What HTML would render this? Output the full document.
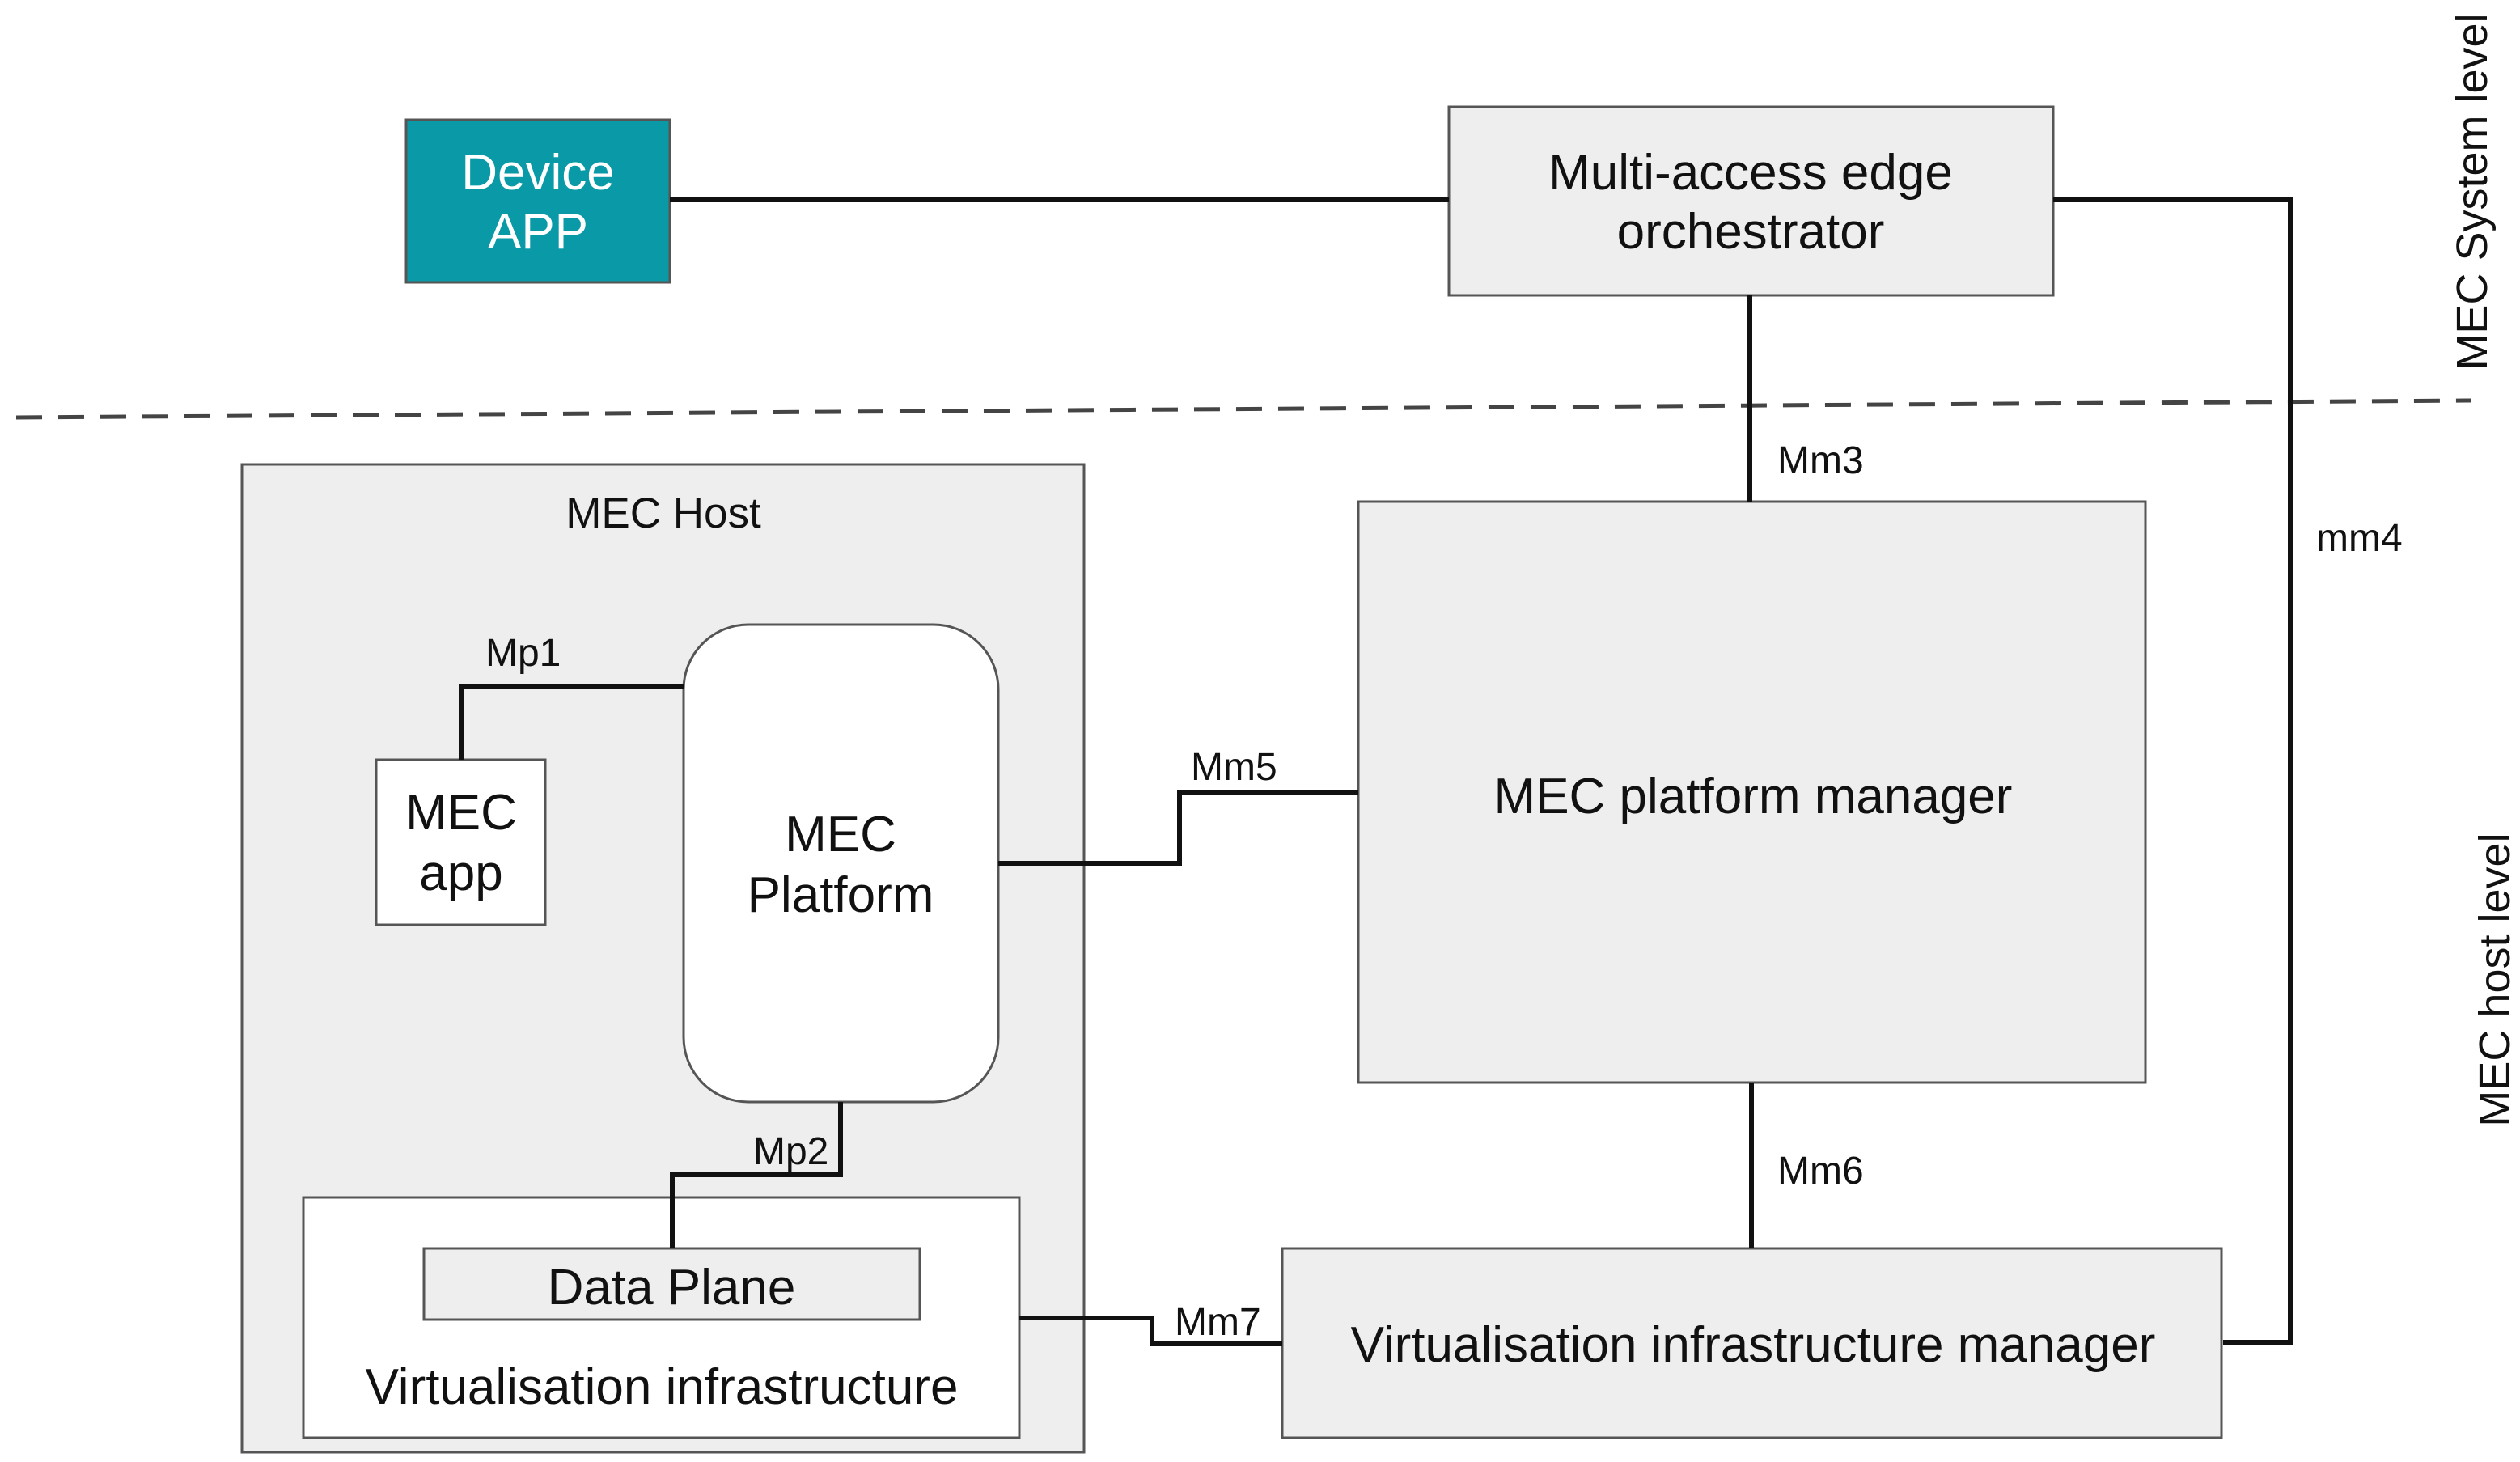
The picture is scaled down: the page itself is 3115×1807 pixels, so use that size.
<!DOCTYPE html>
<html><head><meta charset="utf-8"><style>html,body{margin:0;padding:0;background:#fff}svg{display:block}</style></head>
<body>
<svg width="3115" height="1807" viewBox="0 0 3115 1807" xmlns="http://www.w3.org/2000/svg" font-family="Liberation Sans, Arial, sans-serif">
<rect width="3115" height="1807" fill="#fff"/>
<line x1="20" y1="516" x2="3055" y2="495" stroke="#444" stroke-width="5" stroke-dasharray="32,20"/>
<rect x="299" y="574" width="1041" height="1221" fill="#eeeeee" stroke="#555" stroke-width="3"/>
<rect x="502" y="148" width="326" height="201" fill="#0a9aa7" stroke="#555" stroke-width="3"/>
<rect x="1791" y="132" width="747" height="233" fill="#eeeeee" stroke="#555" stroke-width="3"/>
<rect x="1679" y="620" width="973" height="718" fill="#eeeeee" stroke="#555" stroke-width="3"/>
<rect x="1585" y="1543" width="1161" height="234" fill="#eeeeee" stroke="#555" stroke-width="3"/>
<rect x="845" y="772" width="389" height="590" rx="80" ry="80" fill="#fff" stroke="#555" stroke-width="3"/>
<rect x="465" y="939" width="209" height="204" fill="#fff" stroke="#555" stroke-width="3"/>
<rect x="375" y="1480" width="885" height="297" fill="#fff" stroke="#555" stroke-width="3"/>
<rect x="524" y="1543" width="613" height="88" fill="#eeeeee" stroke="#555" stroke-width="3"/>
<g fill="none" stroke="#111" stroke-width="6">
<polyline points="828,247 1791,247"/>
<polyline points="2538,247 2831,247 2831,1659 2748,1659"/>
<polyline points="2163,365 2163,620"/>
<polyline points="570,939 570,849 845,849"/>
<polyline points="1234,1067 1458,1067 1458,979 1679,979"/>
<polyline points="2165,1338 2165,1543"/>
<polyline points="1039,1362 1039,1452 831,1452 831,1543"/>
<polyline points="1260,1629 1424,1629 1424,1661 1585,1661"/>
</g>
<g font-size="62" text-anchor="middle" fill="#111">
<text x="665" y="234" fill="#fff">Device</text>
<text x="665" y="307" fill="#fff">APP</text>
<text x="2164" y="234">Multi-access edge</text>
<text x="2164" y="307">orchestrator</text>
<text x="2167" y="1005">MEC platform manager</text>
<text x="2167" y="1683">Virtualisation infrastructure manager</text>
<text x="1039" y="1052">MEC</text>
<text x="1039" y="1127">Platform</text>
<text x="570" y="1025">MEC</text>
<text x="570" y="1100">app</text>
<text x="830" y="1612">Data Plane</text>
<text x="818" y="1735">Virtualisation infrastructure</text>
</g>
<g font-size="48" fill="#111">
<text x="820" y="652" text-anchor="middle" font-size="53">MEC Host</text>
<text x="600" y="823">Mp1</text>
<text x="1472" y="964">Mm5</text>
<text x="2197" y="585">Mm3</text>
<text x="2863" y="681">mm4</text>
<text x="2197" y="1463">Mm6</text>
<text x="931" y="1439">Mp2</text>
<text x="1452" y="1650">Mm7</text>
<text transform="translate(3074,237) rotate(-90)" text-anchor="middle" font-size="54">MEC System level</text>
<text transform="translate(3102,1211) rotate(-90)" text-anchor="middle" font-size="54">MEC host level</text>
</g>
</svg>
</body></html>
